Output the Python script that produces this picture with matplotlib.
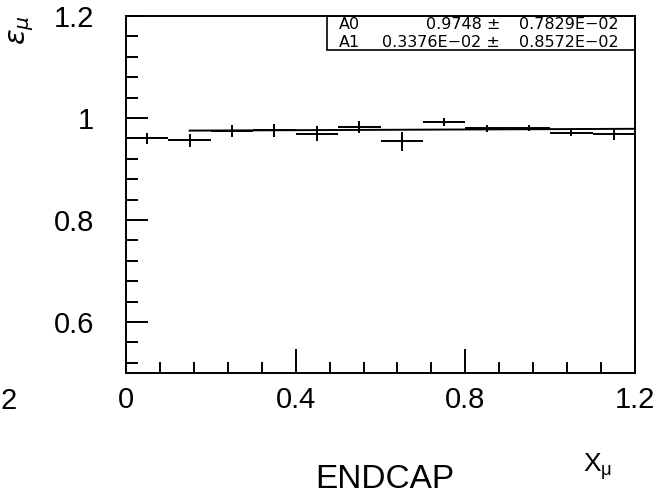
import matplotlib
matplotlib.use('Agg')
import matplotlib.pyplot as plt
from matplotlib.patches import Rectangle
from matplotlib.ticker import MultipleLocator
import numpy as np

plt.rcParams['font.family'] = ['Liberation Sans', 'DejaVu Sans']
plt.rcParams['mathtext.fontset'] = 'dejavusans'

# muon efficiency per x bin (ENDCAP)
x_centers = [0.05, 0.15, 0.25, 0.35, 0.45, 0.55, 0.65, 0.75, 0.85, 0.95, 1.05, 1.15]
x_halfwidth = [0.05] * 12
eff = [0.960, 0.956, 0.974, 0.976, 0.969, 0.983, 0.954, 0.993, 0.980, 0.981, 0.971, 0.968]
eff_err = [0.011, 0.013, 0.012, 0.013, 0.015, 0.012, 0.018, 0.008, 0.007, 0.006, 0.007, 0.011]

# linear fit shown in the stats box
fit_names = ['A0', 'A1']
fit_values = ['0.9748', '0.3376E\u221202']
fit_errors = ['0.7829E\u221202', '0.8572E\u221202']
A0, A1 = 0.9748, 0.3376e-02
fit_range = [0.15, 1.2]

fig = plt.figure(figsize=(6.65, 4.99), dpi=100)
ax = fig.add_axes([0.1895, 0.2525, 0.7654, 0.7154])

ax.errorbar(x_centers, eff, xerr=x_halfwidth, yerr=eff_err, fmt='none',
            ecolor='black', elinewidth=1.4, capsize=0)
fx = np.array(fit_range)
ax.plot(fx, A0 + A1 * fx, color='black', lw=1.4)

ax.set_xlim(0, 1.2)
ax.set_ylim(0.5, 1.2)
ax.xaxis.set_minor_locator(MultipleLocator(0.08))
ax.yaxis.set_minor_locator(MultipleLocator(0.04))
ax.set_xticks([0, 0.4, 0.8, 1.2])
ax.set_xticklabels(['0', '0.4', '0.8', '1.2'])
ax.set_yticks([0.6, 0.8, 1.0, 1.2])
ax.set_yticklabels(['0.6', '0.8', '1', '1.2'])

ax.tick_params(axis='x', which='major', direction='in', length=17, width=1.4,
               labelsize=21, pad=9, top=False)
ax.tick_params(axis='x', which='minor', direction='in', length=8, width=1.4, top=False)
ax.tick_params(axis='y', which='major', direction='in', length=16, width=1.4,
               labelsize=21, pad=23, right=False)
ax.tick_params(axis='y', which='minor', direction='in', length=8.5, width=1.4, right=False)
for s in ax.spines.values():
    s.set_linewidth(1.4)

# stats box in the upper right corner
box_left = (327 - 126) / 509
box_bottom = 1 - (50 - 16) / 357
ax.add_patch(Rectangle((box_left, box_bottom), 1 - box_left, 1 - box_bottom,
                       transform=ax.transAxes, fill=False, lw=1.2, color='black'))
row_y = [1 - (24 - 16) / 357, 1 - (42 - 16) / 357]
for name, val, err, yy in zip(fit_names, fit_values, fit_errors, row_y):
    ax.text((339 - 126) / 509, yy, name, transform=ax.transAxes, fontsize=11.5,
            family='DejaVu Sans', va='center', ha='left')
    ax.text((500 - 126) / 509, yy, val + ' \u00b1', transform=ax.transAxes, fontsize=11.5,
            family='DejaVu Sans', va='center', ha='right')
    ax.text((619 - 126) / 509, yy, err, transform=ax.transAxes, fontsize=11.5,
            family='DejaVu Sans', va='center', ha='right')

# axis titles and labels
fig.text(22 / 665, 1 - 30 / 499, r'$\varepsilon_\mu$', rotation=90,
         ha='center', va='center', fontsize=21)
fig.text(583 / 665, 1 - 472 / 499, r'$\mathregular{X_\mu}$', ha='left',
         va='baseline', fontsize=19)
fig.text(385 / 665, 1 - 488 / 499, 'ENDCAP', ha='center', va='baseline', fontsize=24)
# edge of the neighbouring panel's tick label
fig.text(1 / 665, 1 - 409 / 499, '2', ha='left', va='baseline', fontsize=21)

fig.savefig('out.png', dpi=100)
